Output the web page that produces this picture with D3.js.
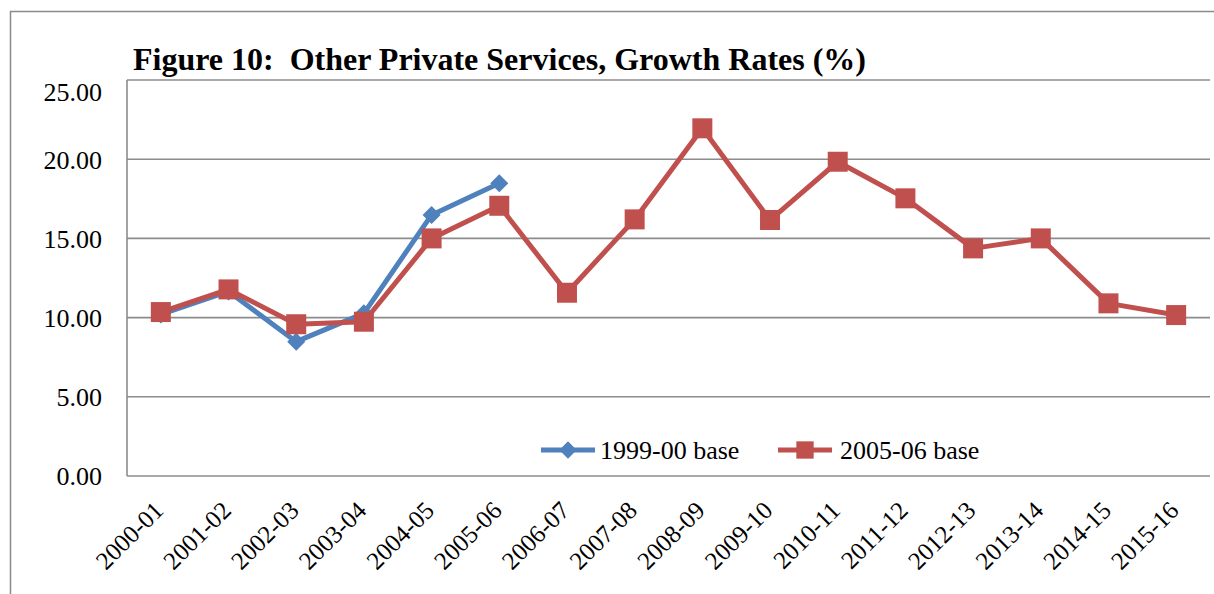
<!DOCTYPE html>
<html>
<head>
<meta charset="utf-8">
<script src="https://cdn.jsdelivr.net/npm/d3@7"></script>
<style>
  html, body { margin: 0; padding: 0; background: #fff; }
  svg { display: block; }
</style>
</head>
<body>
<svg id="chart" width="1214" height="594"></svg>
<script>
// Fiscal years on the category axis
const years = ["2000-01", "2001-02", "2002-03", "2003-04", "2004-05", "2005-06",
  "2006-07", "2007-08", "2008-09", "2009-10", "2010-11", "2011-12",
  "2012-13", "2013-14", "2014-15", "2015-16"];

// Growth rates (%) on the 1999-00 base series (ends 2005-06)
const base1999 = [10.2, 11.65, 8.48, 10.27, 16.48, 18.48];

// Growth rates (%) on the 2005-06 base series
const base2005 = [10.35, 11.78, 9.58, 9.74, 15.0, 17.06, 11.57, 16.2,
  21.95, 16.16, 19.84, 17.53, 14.37, 15.0, 10.9, 10.16];

// Value axis ticks
const yTicks = [0, 5, 10, 15, 20, 25];

const seriesNames = ["1999-00 base", "2005-06 base"];
const seriesColors = ["#4F81BD", "#C0504D"];

const svg = d3.select("#chart");
const W = 1214, H = 594;
const plot = { left: 127, right: 1210, top: 80, bottom: 476 };
const serif = "serif";

// outer frame of the figure (open past the right/bottom edges of the page)
svg.append("rect")
  .attr("x", 10.5).attr("y", 11.5)
  .attr("width", W + 20).attr("height", H + 20)
  .attr("fill", "none").attr("stroke", "#8a8a8a").attr("stroke-width", 1.5);

const x = d3.scaleBand().domain(years).range([plot.left, plot.right]);
const y = d3.scaleLinear().domain([0, 25]).range([plot.bottom, plot.top]);
const cx = d => x(d) + x.bandwidth() / 2;

// horizontal gridlines
svg.append("g")
  .selectAll("line")
  .data(yTicks.filter(t => t > 0))
  .join("line")
  .attr("x1", plot.left).attr("x2", plot.right)
  .attr("y1", d => y(d)).attr("y2", d => y(d))
  .attr("stroke", "#8c8c8c").attr("stroke-width", 1.6);

// y axis labels (top label sits just below its gridline, under the title)
const yAxis = d3.axisLeft(y).tickValues(yTicks).tickSize(0).tickPadding(25)
  .tickFormat(d3.format(".2f"));
const gy = svg.append("g").attr("transform", `translate(${plot.left},0)`).call(yAxis);
gy.attr("font-family", serif).attr("font-size", 26);
gy.select(".domain").remove();
gy.selectAll("text")
  .attr("fill", "#000")
  .attr("dy", d => d === 25 ? "0.77em" : "0.34em");

// x axis labels, rotated 45 degrees
const xAxis = d3.axisBottom(x).tickSize(0).tickPadding(0);
const gx = svg.append("g").attr("transform", `translate(0,${plot.bottom})`).call(xAxis);
gx.attr("font-family", serif).attr("font-size", 25);
gx.select(".domain").remove();
gx.selectAll("text")
  .attr("fill", "#000")
  .attr("text-anchor", "end")
  .attr("dy", 0).attr("y", 0)
  .attr("transform", "translate(4,36) rotate(-45)");

// axis lines
svg.append("line")
  .attr("x1", plot.left).attr("x2", plot.left)
  .attr("y1", plot.top).attr("y2", plot.bottom)
  .attr("stroke", "#8c8c8c").attr("stroke-width", 1.6);
svg.append("line")
  .attr("x1", plot.left).attr("x2", plot.right)
  .attr("y1", plot.bottom).attr("y2", plot.bottom)
  .attr("stroke", "#8c8c8c").attr("stroke-width", 1.6);

const line = d3.line().x(d => cx(d.year)).y(d => y(d.value));
const toPoints = vals => vals.map((v, i) => ({ year: years[i], value: v }));

const diamond = d3.symbol().type(d3.symbolSquare).size(162);
const square = d3.symbol().type(d3.symbolSquare).size(400);

// 1999-00 base series
const s1 = toPoints(base1999);
svg.append("path").datum(s1)
  .attr("d", line).attr("fill", "none")
  .attr("stroke", seriesColors[0]).attr("stroke-width", 5).attr("stroke-linejoin", "round");
svg.append("g").selectAll("path").data(s1).join("path")
  .attr("d", diamond)
  .attr("transform", d => `translate(${cx(d.year)},${y(d.value)}) rotate(45)`)
  .attr("fill", seriesColors[0]);

// 2005-06 base series
const s2 = toPoints(base2005);
svg.append("path").datum(s2)
  .attr("d", line).attr("fill", "none")
  .attr("stroke", seriesColors[1]).attr("stroke-width", 5).attr("stroke-linejoin", "round");
svg.append("g").selectAll("path").data(s2).join("path")
  .attr("d", square)
  .attr("transform", d => `translate(${cx(d.year)},${y(d.value)})`)
  .attr("fill", seriesColors[1]);

// title
svg.append("text")
  .attr("x", 133).attr("y", 70)
  .attr("font-family", serif).attr("font-weight", "bold").attr("font-size", 31)
  .attr("textLength", 733).attr("lengthAdjust", "spacingAndGlyphs")
  .style("white-space", "pre")
  .text("Figure 10:  Other Private Services, Growth Rates (%)");

// legend
const legend = [
  { name: seriesNames[0], color: seriesColors[0], x0: 541, tx: 600, marker: "diamond" },
  { name: seriesNames[1], color: seriesColors[1], x0: 778, tx: 840, marker: "square" }
];
const lg = svg.append("g");
legend.forEach(l => {
  lg.append("line")
    .attr("x1", l.x0).attr("x2", l.x0 + 54).attr("y1", 450).attr("y2", 450)
    .attr("stroke", l.color).attr("stroke-width", 5);
  lg.append("path")
    .attr("d", l.marker === "diamond"
      ? d3.symbol().type(d3.symbolSquare).size(150)()
      : d3.symbol().type(d3.symbolSquare).size(300)())
    .attr("transform", `translate(${l.x0 + 27},450)` + (l.marker === "diamond" ? " rotate(45)" : ""))
    .attr("fill", l.color);
  lg.append("text")
    .attr("x", l.tx).attr("y", 459)
    .attr("font-family", serif).attr("font-size", 26)
    .attr("fill", "#000")
    .text(l.name);
});
</script>
</body>
</html>
